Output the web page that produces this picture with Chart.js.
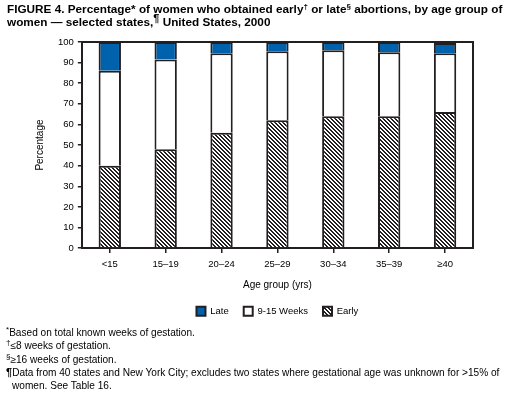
<!DOCTYPE html>
<html>
<head>
<meta charset="utf-8">
<script src="https://cdn.jsdelivr.net/npm/chart.js@4.4.0/dist/chart.umd.min.js"></script>
<style>
    body { margin: 0; background: #fff; font-family: 'Liberation Sans', Arial, sans-serif; color: #000; }
    #wrap { position: relative; width: 515px; height: 394px; overflow: hidden; }
    #chart { position: absolute; left: 0; top: 0; }
    #title { position: absolute; left: 7px; top: 2px; font-weight: bold; font-size: 11.75px; line-height: 13px; white-space: nowrap; }
    #notes { position: absolute; left: 6px; top: 326px; font-size: 10.1px; line-height: 13.3px; white-space: nowrap; }
    #notes div { padding-left: 6px; text-indent: -6px; }
    sup { font-size: 8px; line-height: 0; vertical-align: 4px; }
    .para { font-weight: bold; font-size: 11px; }
</style>
</head>
<body>
<div id="wrap">
    <canvas id="chart" width="515" height="394"></canvas>
    <div id="title">FIGURE 4. Percentage* of women who obtained early<sup>†</sup> or late<sup>§</sup> abortions, by age group of<br>women — selected states,<sup class="para">¶</sup> United States, 2000</div>
    <div id="notes">
        <div><sup>*</sup>Based on total known weeks of gestation.</div>
        <div><sup>†</sup>≤8 weeks of gestation.</div>
        <div><sup>§</sup>≥16 weeks of gestation.</div>
        <div><span class="para">¶</span>Data from 40 states and New York City; excludes two states where gestational age was unknown for &gt;15% of<br>women. See Table 16.</div>
    </div>
</div>
<script>
// Данные графика
const ageGroups = ['<15', '15–19', '20–24', '25–29', '30–34', '35–39', '≥40'];
const early = [40, 48, 56, 62, 64, 64, 66];
const midWeeks = [46, 43.5, 38.5, 33.5, 32, 31, 28.5];
const late = [14, 8.5, 5.5, 4.5, 4, 5, 5];

const dark = '#231f20';
const blue = '#0062ac';

// Штриховка для "Early" (попиксельно, чтобы полосы были чёткими)
function makeHatch() {
    const size = 4;
    const c = document.createElement('canvas');
    c.width = size;
    c.height = size;
    const g = c.getContext('2d');
    g.fillStyle = '#fff';
    g.fillRect(0, 0, size, size);
    g.fillStyle = dark;
    for (let y = 0; y < size; y++) {
        for (let x = 0; x < size; x++) {
            const d = ((x - y) % size + size) % size;
            if (d < 2) g.fillRect(x, y, 1, 1);
        }
    }
    return g.createPattern(c, 'repeat');
}

const ctx = document.getElementById('chart').getContext('2d');
const hatch = makeHatch();

new Chart(ctx, {
    type: 'bar',
    data: {
        labels: ageGroups,
        datasets: [
            { label: 'Early', data: early, backgroundColor: hatch },
            { label: '9-15 Weeks', data: midWeeks, backgroundColor: '#fff' },
            { label: 'Late', data: late, backgroundColor: blue }
        ]
    },
    options: {
        responsive: false,
        animation: false,
        layout: { padding: { left: 34, right: 42, top: 42, bottom: 68 } },
        datasets: {
            bar: {
                borderColor: dark,
                borderWidth: 2,
                categoryPercentage: 1,
                barPercentage: 0.4
            }
        },
        scales: {
            x: {
                stacked: true,
                grid: { drawOnChartArea: false, offset: false, tickLength: 5, color: dark, lineWidth: 1.5 },
                border: { color: dark, width: 2 },
                ticks: { color: '#000', font: { family: 'Liberation Sans', size: 9.5 }, padding: 6, maxRotation: 0 },
                title: {
                    display: true, text: 'Age group (yrs)', color: '#000',
                    font: { family: 'Liberation Sans', size: 10 }, padding: { top: 3, bottom: 0 }
                }
            },
            xTop: {
                position: 'top',
                ticks: { display: false },
                grid: { display: false, drawTicks: false },
                border: { color: dark, width: 2 }
            },
            y: {
                stacked: true,
                min: 0,
                max: 100,
                grid: { drawOnChartArea: false, tickLength: 4, color: dark, lineWidth: 1.5 },
                border: { color: dark, width: 2 },
                ticks: { stepSize: 10, color: '#000', font: { family: 'Liberation Sans', size: 9.5 }, padding: 4 },
                title: {
                    display: true, text: 'Percentage', color: '#000',
                    font: { family: 'Liberation Sans', size: 10 }, padding: { top: 0, bottom: 8 }
                }
            },
            yRight: {
                position: 'right',
                min: 0,
                max: 100,
                ticks: { display: false },
                grid: { display: false, drawTicks: false },
                border: { color: dark, width: 2 }
            }
        },
        plugins: {
            tooltip: { enabled: false },
            legend: {
                position: 'bottom',
                fullSize: false,
                reverse: true,
                labels: {
                    color: '#000',
                    boxWidth: 9,
                    boxHeight: 9,
                    padding: 15,
                    font: { family: 'Liberation Sans', size: 9.5 }
                }
            }
        }
    }
});
</script>
</body>
</html>
